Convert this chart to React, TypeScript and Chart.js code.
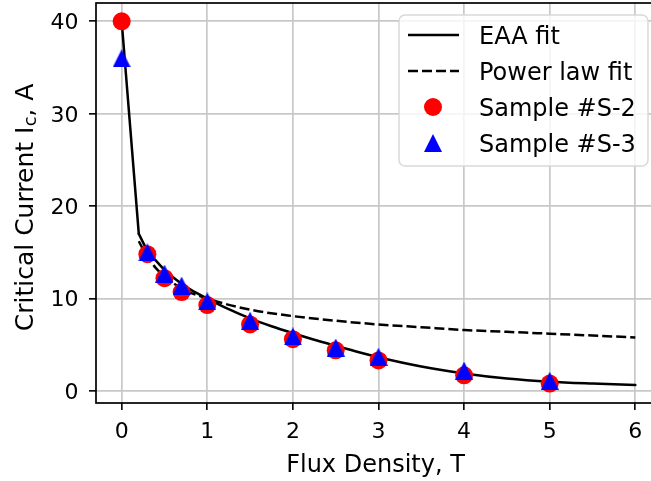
import React, { useEffect, useRef } from "react";
import { Chart, registerables } from "chart.js";

Chart.register(...registerables);

const FONT = "'DejaVu Sans', 'Noto Sans', sans-serif";
const TICK_SIZE = 22;

// EAA fit (solid): steep first segment, then smooth curve
const eaaSteepX = [0, 0.2];
const eaaSteepY = [40, 17.0];
const eaaX = [0.2, 0.3, 0.4, 0.5, 0.6, 0.7, 0.8, 1.0, 1.25, 1.5, 1.75, 2.0, 2.25, 2.5, 2.75, 3.0, 3.5, 4.0, 4.5, 5.0, 5.5, 6.0];
const eaaY = [17.0, 15.2, 14.1, 13.1, 12.3, 11.6, 11.0, 10.0, 8.85, 7.85, 7.0, 6.25, 5.55, 4.9, 4.25, 3.65, 2.65, 1.9, 1.35, 1.0, 0.8, 0.65];

// Power law fit (dashed)
const powX = [0.2, 0.3, 0.4, 0.5, 0.7, 1.0, 1.5, 2.0, 2.5, 3.0, 3.5, 4.0, 4.5, 5.0, 5.5, 6.0];
const powY = [16.2, 14.5, 13.3, 12.4, 11.1, 10.0, 8.8, 8.1, 7.6, 7.2, 6.9, 6.6, 6.4, 6.2, 6.0, 5.8];

// Measured samples
const sampleX = [0, 0.3, 0.5, 0.7, 1.0, 1.5, 2.0, 2.5, 3.0, 4.0, 5.0];
const s2Y = [40, 14.8, 12.2, 10.7, 9.3, 7.2, 5.6, 4.4, 3.3, 1.7, 0.8];
const s3Y = [36, 15.0, 12.7, 11.4, 9.7, 7.6, 5.9, 4.7, 3.7, 2.2, 1.1];

const xTicks = [0, 1, 2, 3, 4, 5, 6];
const yTicks = [0, 10, 20, 30, 40];

const labels = ["EAA fit", "Power law fit", "Sample #S-2", "Sample #S-3"];

function pts(xs: number[], ys: number[]) {
  return xs.map((x, i) => ({ x, y: ys[i] }));
}

function makeTriangle(size: number, color: string) {
  const c = document.createElement("canvas");
  c.width = size;
  c.height = size;
  const g = c.getContext("2d")!;
  g.fillStyle = color;
  g.beginPath();
  g.moveTo(size / 2, 0);
  g.lineTo(size, size);
  g.lineTo(0, size);
  g.closePath();
  g.fill();
  return c;
}

function roundRect(ctx: CanvasRenderingContext2D, x: number, y: number, w: number, h: number, r: number) {
  ctx.beginPath();
  ctx.moveTo(x + r, y);
  ctx.lineTo(x + w - r, y);
  ctx.arcTo(x + w, y, x + w, y + r, r);
  ctx.lineTo(x + w, y + h - r);
  ctx.arcTo(x + w, y + h, x + w - r, y + h, r);
  ctx.lineTo(x + r, y + h);
  ctx.arcTo(x, y + h, x, y + h - r, r);
  ctx.lineTo(x, y + r);
  ctx.arcTo(x, y, x + r, y, r);
  ctx.closePath();
}

export default function App() {
  const ref = useRef<HTMLCanvasElement>(null);

  useEffect(() => {
    const canvas = ref.current!;
    const tri = makeTriangle(18, "#0000ff");

    const custom = {
      id: "custom",
      afterDatasetsDraw(chart: any) {
        const { ctx, chartArea: a } = chart;
        ctx.save();
        ctx.strokeStyle = "#000";
        ctx.lineWidth = 1.7;
        ctx.strokeRect(a.left, a.top, a.right - a.left, a.bottom - a.top);
        ctx.restore();
      },
      afterDraw(chart: any) {
        const { ctx, chartArea: a } = chart;
        const xs = chart.scales.x;
        const ys = chart.scales.y;
        ctx.save();
        ctx.fillStyle = "#000";

        // tick labels, placed by the library's scales
        ctx.font = `${TICK_SIZE}px ${FONT}`;
        ctx.textBaseline = "alphabetic";
        ctx.textAlign = "center";
        xs.ticks.forEach((t: any) => {
          ctx.fillText(String(t.label ?? t.value), xs.getPixelForValue(t.value), a.bottom + 35);
        });
        ctx.textAlign = "right";
        ys.ticks.forEach((t: any) => {
          ctx.fillText(String(t.label ?? t.value), a.left - 17.5, ys.getPixelForValue(t.value) + TICK_SIZE * 0.36);
        });

        // x title
        ctx.font = `24px ${FONT}`;
        ctx.textAlign = "center";
        ctx.fillText("Flux Density, T", (a.left + a.right) / 2 - 3, a.bottom + 69);

        // y title with subscript
        const main = "Critical Current I";
        const sub = "c";
        const tail = ", A";
        ctx.font = `25px ${FONT}`;
        const w1 = ctx.measureText(main).width;
        const w3 = ctx.measureText(tail).width;
        ctx.font = `18px ${FONT}`;
        const w2 = ctx.measureText(sub).width;
        const total = w1 + w2 + w3;
        ctx.translate(33, (a.top + a.bottom) / 2 + 4.5);
        ctx.rotate(-Math.PI / 2);
        ctx.textAlign = "left";
        ctx.font = `25px ${FONT}`;
        ctx.fillText(main, -total / 2, 0);
        ctx.font = `18px ${FONT}`;
        ctx.fillText(sub, -total / 2 + w1 + 0.5, 3);
        ctx.font = `25px ${FONT}`;
        ctx.fillText(tail, -total / 2 + w1 + w2, 0);
        ctx.restore();

        // legend
        ctx.save();
        const bx = a.right - 13 - 249;
        const by = a.top + 12;
        roundRect(ctx, bx, by, 249, 151, 6);
        ctx.fillStyle = "rgba(255,255,255,0.8)";
        ctx.fill();
        ctx.strokeStyle = "#d9d9d9";
        ctx.lineWidth = 1.5;
        ctx.stroke();
        const ds = chart.data.datasets;
        const entries = [ds[0], ds[2], ds[3], ds[4]];
        entries.forEach((d: any, i: number) => {
          const cy = by + 20 + 36 * i;
          const sx1 = bx + 9;
          const sx2 = bx + 60;
          const mx = bx + 34;
          if (d.showLine) {
            ctx.beginPath();
            ctx.strokeStyle = d.borderColor;
            ctx.lineWidth = d.borderWidth;
            ctx.setLineDash(d.borderDash || []);
            ctx.moveTo(sx1, cy);
            ctx.lineTo(sx2, cy);
            ctx.stroke();
            ctx.setLineDash([]);
          } else if (d.pointStyle === "circle") {
            ctx.beginPath();
            ctx.fillStyle = d.backgroundColor;
            ctx.arc(mx, cy, d.pointRadius, 0, Math.PI * 2);
            ctx.fill();
          } else {
            const img = d.pointStyle as HTMLCanvasElement;
            ctx.drawImage(img, mx - img.width / 2, cy - img.height / 2);
          }
          ctx.fillStyle = "#000";
          ctx.font = `24px ${FONT}`;
          ctx.textAlign = "left";
          ctx.textBaseline = "alphabetic";
          ctx.fillText(d.label, bx + 80, by + 29 + 35.85 * i);
        });
        ctx.restore();
      },
    };

    const gridOpts = {
      color: "#c8c8c8",
      lineWidth: 1.7,
      tickColor: "#000",
      tickLength: 7,
      tickWidth: 1.6,
    };

    const chart = new Chart(canvas, {
      type: "scatter",
      data: {
        datasets: [
          {
            label: labels[0],
            data: pts(eaaSteepX, eaaSteepY),
            showLine: true,
            borderColor: "#000",
            borderWidth: 2.5,
            borderCapStyle: "round",
            pointRadius: 0,
            tension: 0,
            order: 4,
          },
          {
            label: labels[0],
            data: pts(eaaX, eaaY),
            showLine: true,
            borderColor: "#000",
            borderWidth: 2.5,
            borderCapStyle: "round",
            pointRadius: 0,
            cubicInterpolationMode: "monotone",
            order: 4,
          },
          {
            label: labels[1],
            data: pts(powX, powY),
            showLine: true,
            borderColor: "#000",
            borderWidth: 2.5,
            borderDash: [10, 4],
            pointRadius: 0,
            cubicInterpolationMode: "monotone",
            order: 3,
          },
          {
            label: labels[2],
            data: pts(sampleX, s2Y),
            showLine: false,
            pointStyle: "circle",
            pointRadius: 9,
            backgroundColor: "#ff0000",
            borderWidth: 0,
            order: 2,
          },
          {
            label: labels[3],
            data: pts(sampleX, s3Y),
            showLine: false,
            pointStyle: tri,
            pointRadius: 9,
            backgroundColor: "#0000ff",
            borderWidth: 0,
            order: 1,
          },
        ],
      } as any,
      options: {
        animation: false,
        responsive: false,
        events: [],
        layout: { padding: { left: 0, top: 3, right: 9, bottom: 0 }, autoPadding: false },
        plugins: { legend: { display: false }, tooltip: { enabled: false } },
        scales: {
          x: {
            type: "linear",
            min: -0.3,
            max: 6.3,
            afterBuildTicks: (s: any) => {
              s.ticks = xTicks.map((v) => ({ value: v }));
            },
            afterFit: (s: any) => {
              s.height = 78;
              s.paddingLeft = 0;
              s.paddingRight = 0;
            },
            grid: gridOpts,
            border: { display: false },
            ticks: { display: false, autoSkip: false },
          },
          y: {
            type: "linear",
            min: -1.3,
            max: 41.98,
            afterBuildTicks: (s: any) => {
              s.ticks = yTicks.map((v) => ({ value: v }));
            },
            afterFit: (s: any) => {
              s.width = 96;
              s.paddingTop = 0;
              s.paddingBottom = 0;
            },
            grid: gridOpts,
            border: { display: false },
            ticks: { display: false, autoSkip: false },
          },
        },
      } as any,
      plugins: [custom],
    });
    return () => chart.destroy();
  }, []);

  return (
    <div style={{ position: "fixed", left: 0, top: 0, width: 651, height: 481, overflow: "hidden", background: "#fff" }}>
      <canvas ref={ref} width={670} height={481} style={{ display: "block", width: 670, height: 481 }} />
    </div>
  );
}
